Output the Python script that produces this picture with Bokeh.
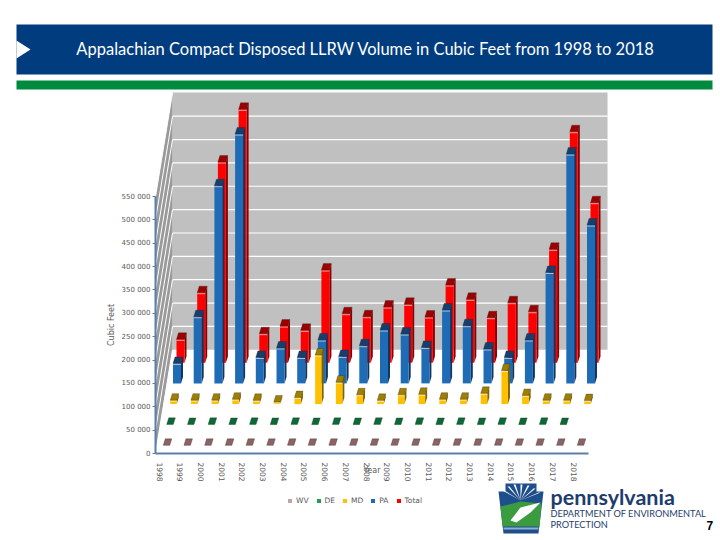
from bokeh.plotting import figure
from bokeh.models import (Range1d, FixedTicker, Legend, LegendItem,
                          Label, PolyAnnotation, BoxAnnotation)
from bokeh.embed import file_html
from bokeh.resources import INLINE

# ---------------- data ----------------
TITLE = "Appalachian Compact Disposed LLRW Volume in Cubic Feet from 1998 to 2018"
years = list(range(1998, 2019))
series_names = ["WV", "DE", "MD", "PA", "Total"]
wv = [500, 400, 500, 400, 500, 400, 500, 400, 500, 400, 500, 400, 500, 400, 500, 400, 500, 400, 500, 400, 500]
de = [1000, 900, 1000, 900, 1000, 900, 1000, 900, 1000, 900, 1000, 900, 1000, 900, 1000, 900, 1000, 900, 1000, 900, None]
md = [8500, 8500, 8500, 10500, 8000, 4500, 14000, 105000, 47000, 20000, 8000, 20000, 21000, 10500,
      10500, 23000, 72000, 18500, 8500, 8500, 7500]
pa = [42800, 142700, 423100, 533700, 55600, 75800, 55600, 92900, 57800, 80700, 114300, 105700,
      77000, 157100, 123500, 73600, 55600, 92900, 237500, 490900, 339000]
total = [50100, 149800, 429500, 542300, 62100, 78500, 69300, 198400, 104900, 98400, 119200,
         125000, 97800, 166300, 135700, 96300, 128400, 109100, 242700, 494300, 342400]
y_ticks = list(range(0, 550001, 50000))
y_tick_labels = ["0"] + [f"{t // 1000} 000" for t in y_ticks[1:]]
x_axis_title = "Year"
y_axis_title = "Cubic Feet"

# ---------------- styles / geometry ----------------
FRONT = ["#c4a3a8", "#1f9d55", "#ffc000", "#1e6cb6", "#ff0000"]
CAP = ["#8c6363", "#0b6a35", "#a07e00", "#163f6e", "#9c0000"]
SIDE = ["#6e4848", "#064a24", "#806400", "#12355e", "#8a0000"]
BAR_W_PX = [6.5, 6.5, 6.5, 8.0, 8.0]
W, H = 716, 536
PX_X = 1 / 20.7            # years per pixel
PX_Y = 550000 / 257        # cubic feet per pixel
X_LO = 1998 - 159 * PX_X   # canvas x 0
X_HI = X_LO + W * PX_X
Y_LO = -(H - 453) * PX_Y   # canvas bottom
Y_HI = Y_LO + H * PX_Y
X_AX = 1998 - 4 * PX_X     # y-axis position
X_AX_END = 1998 + 429 * PX_X
X_WALL_R = 1998 + 448 * PX_X
Y_TOP = 361 * PX_Y
BASE0_PX, DEPTH_PX = 8.0, 20.7
XOFF0_PX, XSTEP_PX = 7.0, 3.5
CAP_DX_PX, CAP_DY_PX = 2.0, 6.5
WALL_BASE = 103.7 * PX_Y
WALL_X = X_AX + 17 * PX_X
AXIS_COLOR = "#5b7fa8"
TEXT_COLOR = "#595959"
FONT = "DejaVu Sans"

p = figure(width=W, height=H, x_range=Range1d(X_LO, X_HI), y_range=Range1d(Y_LO, Y_HI),
           toolbar_location=None, output_backend="svg", min_border=0)
p.grid.visible = False
p.outline_line_color = None
p.background_fill_color = "white"
p.title.visible = False

# ---------------- slide header (canvas px) ----------------
def cbox(l, r, t, b, color):
    return BoxAnnotation(left=l, right=r, top=t, bottom=b, left_units="canvas",
                         right_units="canvas", top_units="canvas", bottom_units="canvas",
                         fill_color=color, fill_alpha=1, line_color=None, level="underlay")

p.add_layout(cbox(16, 712, 24, 74, "#003c7e"))
p.add_layout(cbox(16, 712, 80, 89, "#008a3e"))
p.add_layout(PolyAnnotation(xs=[16, 30, 16], ys=[40, 49, 58], xs_units="canvas", ys_units="canvas",
                            fill_color="white", fill_alpha=1, line_color=None))
p.add_layout(Label(x=365, y=48, x_units="canvas", y_units="canvas", text=TITLE,
                   text_color="white", text_font="Lato", text_font_size="16.5px",
                   text_align="center", text_baseline="middle"))

# back wall
p.quad(left=[WALL_X], right=[X_WALL_R], bottom=[WALL_BASE], top=[Y_TOP],
       fill_color="#c0c0c0", line_color=None)
gl = [WALL_BASE + k * 50000 for k in range(1, 11)]
p.segment(x0=[WALL_X] * len(gl), y0=gl, x1=[X_WALL_R] * len(gl), y1=gl,
          line_color="white", line_width=1.2)
# side wall
p.patch(x=[X_AX, WALL_X, WALL_X, X_AX], y=[0, WALL_BASE, WALL_BASE + 550000, 550000],
        fill_color="#9a9a9a", line_color=None)
sy0 = [k * 50000 for k in range(12)]
sy1 = [WALL_BASE + k * 50000 for k in range(12)]
p.segment(x0=[X_AX] * 12, y0=sy0, x1=[WALL_X] * 12, y1=sy1, line_color="white", line_width=1)

data = [wv, de, md, pa, total]
front_renderers = [None] * 5
for k in [4, 3, 2, 1, 0]:
    vals = data[k]
    base = (BASE0_PX + DEPTH_PX * k) * PX_Y
    xo = (XOFF0_PX + XSTEP_PX * k) * PX_X
    hw = BAR_W_PX[k] / 2 * PX_X
    dx = CAP_DX_PX * PX_X
    dy = CAP_DY_PX * PX_Y
    L, R, B, T = [], [], [], []
    cxs, cys, sxs, sys_ = [], [], [], []
    for yr, v in zip(years, vals):
        if v is None:
            continue
        l, r, t = yr + xo - hw, yr + xo + hw, base + v
        L.append(l); R.append(r); B.append(base); T.append(t)
        cxs.append([l, r, r + dx, l + dx]); cys.append([t, t, t + dy, t + dy])
        sxs.append([r, r, r + dx, r + dx]); sys_.append([base, t, t + dy, base + dy])
    p.patches(xs=sxs, ys=sys_, fill_color=SIDE[k], line_color=None)
    fr = p.quad(left=L, right=R, bottom=B, top=T, fill_color=FRONT[k], line_color=None)
    front_renderers[k] = fr
    if k >= 2:
        hy = [t - 1.0 * PX_Y for t in T]
        p.segment(x0=L, y0=hy, x1=R, y1=hy, line_color="white", line_width=0.8, line_alpha=0.8)
    p.patches(xs=cxs, ys=cys, fill_color=CAP[k], line_color="#222222", line_width=0.3)

# axes (placed at fixed positions inside the canvas)
yax = p.yaxis[0]
yax.fixed_location = X_AX
yax.ticker = FixedTicker(ticks=y_ticks)
yax.major_label_overrides = {t: s for t, s in zip(y_ticks, y_tick_labels)}
yax.bounds = (0, 550000)
yax.axis_line_color = AXIS_COLOR
yax.axis_line_width = 2
yax.major_tick_line_color = AXIS_COLOR
yax.major_tick_out = 3
yax.major_tick_in = 0
yax.minor_tick_line_color = None
yax.major_label_standoff = 2
yax.major_label_text_font = FONT
yax.major_label_text_font_size = "7px"
yax.major_label_text_color = TEXT_COLOR
yax.axis_label = y_axis_title
yax.axis_label_text_font = FONT
yax.axis_label_text_font_size = "8px"
yax.axis_label_text_font_style = "normal"
yax.axis_label_text_color = TEXT_COLOR
yax.axis_label_standoff = 3

xax = p.xaxis[0]
xax.fixed_location = 0
xax.ticker = FixedTicker(ticks=years)
xax.major_label_overrides = {y: str(y) for y in years}
xax.major_label_orientation = "vertical"
xax.bounds = (X_AX, X_AX_END)
xax.axis_line_color = AXIS_COLOR
xax.axis_line_width = 2
xax.major_tick_line_color = None
xax.minor_tick_line_color = None
xax.major_label_standoff = 3
xax.major_label_text_font = FONT
xax.major_label_text_font_size = "7.5px"
xax.major_label_text_color = TEXT_COLOR
xax.axis_label = x_axis_title
xax.axis_label_text_font = FONT
xax.axis_label_text_font_size = "8px"
xax.axis_label_text_font_style = "normal"
xax.axis_label_text_color = TEXT_COLOR
xax.axis_label_standoff = -19

legend = Legend(items=[LegendItem(label=n, renderers=[front_renderers[k]])
                       for k, n in enumerate(series_names)],
                orientation="horizontal", location=(287, H - 505), padding=0,
                spacing=7, glyph_width=5, glyph_height=5, label_standoff=4,
                label_height=8, label_width=6,
                label_text_font=FONT, label_text_font_size="7.5px", label_text_color=TEXT_COLOR,
                border_line_color=None, background_fill_alpha=0)
p.add_layout(legend)

# logo (canvas units)
def cpoly(pts, color):
    return PolyAnnotation(xs=[x for x, _ in pts], ys=[y for _, y in pts],
                          xs_units="canvas", ys_units="canvas",
                          fill_color=color, fill_alpha=1, line_color=None)

p.add_layout(cpoly([(498, 491), (505, 491), (505, 483), (536, 483), (536, 491), (543, 491),
                    (538, 533), (503, 533)], "#1f4e8c"))
p.add_layout(cpoly([(500, 506), (520, 501), (541, 503), (539, 526), (502, 526)], "#3b9b3f"))
for (ax, ay) in [(503, 490), (508, 486), (514, 484), (521, 484), (528, 485), (534, 488), (539, 492)]:
    p.add_layout(cpoly([(520, 500), (ax - 1, ay), (ax + 1, ay)], "white"))
p.add_layout(cpoly([(510, 520), (520, 507), (540, 502), (530, 512), (516, 522)], "white"))
p.add_layout(cpoly([(503, 527), (538, 527), (538, 529), (503, 529)], "#8fb0d8"))

p.add_layout(Label(x=550, y=483, x_units="canvas", y_units="canvas", text="pennsylvania",
                   text_font="Lato", text_font_style="bold", text_font_size="21.5px",
                   text_color="#1d3c6e", text_baseline="top"))
p.add_layout(Label(x=550, y=507, x_units="canvas", y_units="canvas",
                   text="DEPARTMENT OF ENVIRONMENTAL", text_font="Lato", text_font_size="9.2px",
                   text_color="#1d3c6e", text_baseline="top"))
p.add_layout(Label(x=550, y=518, x_units="canvas", y_units="canvas", text="PROTECTION",
                   text_font="Lato", text_font_size="9.2px", text_color="#1d3c6e",
                   text_baseline="top"))
p.add_layout(Label(x=706, y=520, x_units="canvas", y_units="canvas", text="7",
                   text_font="Liberation Sans", text_font_style="bold", text_font_size="12px",
                   text_color="black", text_baseline="top"))

open("out.html", "w").write(file_html(p, INLINE))
